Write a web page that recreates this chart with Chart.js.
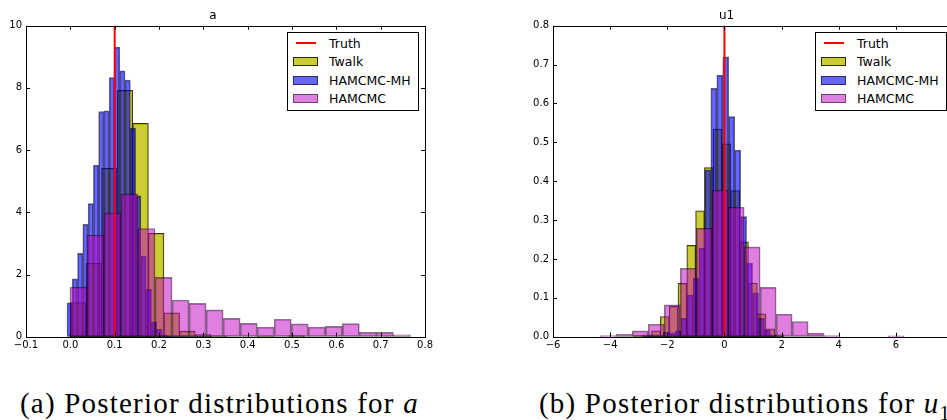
<!DOCTYPE html>
<html>
<head>
<meta charset="utf-8">
<script src="https://cdn.jsdelivr.net/npm/chart.js@4.4.1/dist/chart.umd.min.js"></script>
<style>
  html, body { margin: 0; padding: 0; background: #fff; overflow: hidden; }
  body { width: 947px; height: 420px; position: relative; }
  .panel { position: absolute; top: 0; }
  .panel canvas { display: block; }
  .legend { position: absolute; box-sizing: border-box; width: 132px; height: 79px; border: 1px solid #000;
            background: #fff; font: 12.5px "DejaVu Sans", sans-serif; padding-top: 0.5px; color: #000; }
  .legend .row { height: 18.5px; display: flex; align-items: center; }
  .legend .key { width: 25px; height: 9px; margin-left: 5px; box-sizing: border-box; display: flex;
                 align-items: center; justify-content: center; }
  .legend .key span { width: 20px; height: 2px; }
  .legend .txt { margin-left: 11px; }
  .caption { position: absolute; top: 389px; font-size: 29px; font-family: "Liberation Serif", "Times New Roman", "DejaVu Serif", serif;
             letter-spacing: 1.2px; line-height: 29px; white-space: nowrap; color: #000; }
  .caption sub { font-size: 0.7em; line-height: 0; }
</style>
</head>
<body>
<div class="panel" id="panelA" style="left:0"><canvas id="chartA" width="436" height="360"></canvas></div>
<div class="panel" id="panelU" style="left:500px"><canvas id="chartU" width="463" height="360"></canvas></div>
<div class="caption" style="left:20px">(a) Posterior distributions for <i>a</i></div>
<div class="caption" style="left:539px">(b) Posterior distributions for <i>u</i><sub>1</sub></div>

<script>
// series names and legend order
const seriesNames = ['Truth', 'Twalk', 'HAMCMC-MH', 'HAMCMC'];

// ---- panel (a): parameter a ----
const truthA = 0.1;
const twalkA_start = 0.0, twalkA_width = 0.0352;
const twalkA = [1.10, 2.36, 5.41, 7.92, 6.86, 3.32, 0.77, 0.18, 0.07, 0.03, 0, 0, 0.02, 0, 0.04];
const mhA_start = -0.0075, mhA_width = 0.0119;
const mhA = [1.09, 1.86, 2.68, 3.61, 4.28, 5.52, 7.24, 7.26, 8.33, 9.31, 8.55, 8.25, 6.70, 4.53, 2.59,
             1.52, 0.48, 0.24, 0.05, 0.02];
const hamA_start = -0.001, hamA_width = 0.0384;
const hamA = [1.59, 3.27, 3.98, 4.59, 3.48, 1.91, 1.18, 1.07, 0.86, 0.59, 0.43, 0.31, 0.56, 0.41, 0.31,
              0.33, 0.42, 0.14, 0.14, 0.06];

// ---- panel (b): parameter u1 ----
const truthU = 0.0;
const twalkU_start = -3.166, twalkU_width = 0.3082;
const twalkU = [0.003, 0.005, 0.015, 0.052, 0.078, 0.137, 0.235, 0.324, 0.435, 0.534, 0.496, 0.376,
                0.244, 0.138, 0.059, 0.02, 0.005];
const mhU_start = -2.767, mhU_width = 0.2084;
const mhU = [0.003, 0.005, 0.004, 0.012, 0.01, 0.015, 0.047, 0.107, 0.150, 0.227, 0.429, 0.639, 0.673,
             0.720, 0.566, 0.48, 0.309, 0.189, 0.113, 0.047, 0.017, 0.005];
const hamU_start = -4.343, hamU_width = 0.5594;
const hamU = [0.003, 0.006, 0.015, 0.032, 0.082, 0.176, 0.279, 0.377, 0.333, 0.231, 0.127, 0.058,
              0.039, 0.009, 0.003, 0, 0, 0, 0.002];

// styles
const truthColor = '#ff0000';
const fillColors = { Twalk: 'rgba(191,191,0,0.8)', 'HAMCMC-MH': 'rgba(0,0,255,0.6)', HAMCMC: 'rgba(191,0,191,0.5)' };
const edgeColors = { Twalk: 'rgba(0,0,0,0.8)', 'HAMCMC-MH': 'rgba(0,0,0,0.6)', HAMCMC: 'rgba(0,0,0,0.5)' };

Chart.defaults.font.family = '"DejaVu Sans", sans-serif';
Chart.defaults.font.size = 10;
Chart.defaults.color = '#000';

function bins(start, width, heights) {
  return heights.map((h, i) => ({ x: start + width * (i + 0.5), y: h }));
}

function fmt(dec) {
  return v => (v < -1e-9 ? '\u2212' : '') + Math.abs(v).toFixed(dec);
}

// matplotlib-style box with inward ticks on all four sides
const frame = {
  id: 'frame',
  afterDraw(chart) {
    const { ctx, chartArea: a } = chart;
    const x = chart.scales.x, y = chart.scales.y;
    ctx.save();
    ctx.strokeStyle = '#000';
    ctx.lineWidth = 1;
    ctx.beginPath();
    x.ticks.forEach(t => {
      const px = Math.round(x.getPixelForValue(t.value)) + 0.5;
      ctx.moveTo(px, a.bottom); ctx.lineTo(px, a.bottom - 4);
      ctx.moveTo(px, a.top); ctx.lineTo(px, a.top + 4);
    });
    y.ticks.forEach(t => {
      const py = Math.round(y.getPixelForValue(t.value)) + 0.5;
      ctx.moveTo(a.left, py); ctx.lineTo(a.left + 4, py);
      ctx.moveTo(a.right, py); ctx.lineTo(a.right - 4, py);
    });
    ctx.stroke();
    ctx.strokeRect(Math.round(a.left) + 0.5, Math.round(a.top) + 0.5,
                   Math.round(a.right - a.left), Math.round(a.bottom - a.top));
    ctx.restore();
  }
};

function histChart(canvasId, o) {
  const binScale = { type: 'linear', display: false, min: o.xmin, max: o.xmax, offset: false, ticks: { count: 2 } };
  const bar = (name, data, axis, order) => ({
    label: name, data, xAxisID: axis, order, grouped: false,
    backgroundColor: fillColors[name], borderColor: edgeColors[name]
  });
  return new Chart(document.getElementById(canvasId), {
    type: 'bar',
    data: {
      datasets: [
        { type: 'line', label: 'Truth', data: [{ x: o.truth, y: 0 }, { x: o.truth, y: o.ymax }],
          borderColor: truthColor, borderWidth: 2, pointRadius: 0, xAxisID: 'x', order: 0 },
        bar('HAMCMC', o.ham, 'xh', 1),
        bar('HAMCMC-MH', o.mh, 'xm', 2),
        bar('Twalk', o.twalk, 'xt', 3)
      ]
    },
    options: {
      responsive: false,
      animation: false,
      layout: { padding: { left: 0, right: 10, top: 0, bottom: 0 } },
      datasets: { bar: { barPercentage: 1, categoryPercentage: 1, borderWidth: 1, borderSkipped: false } },
      scales: {
        x: {
          type: 'linear', position: 'bottom', min: o.xmin, max: o.xmax, offset: false,
          grid: { display: false, drawTicks: false }, border: { display: false },
          ticks: { stepSize: o.xstep, padding: 3, maxRotation: 0, autoSkip: false, callback: fmt(o.xdec) },
          afterFit: s => { s.height = 23.3; }
        },
        xh: binScale, xm: binScale, xt: binScale,
        y: {
          type: 'linear', min: 0, max: o.ymax,
          grid: { display: false, drawTicks: false }, border: { display: false },
          ticks: { stepSize: o.ystep, padding: 4, callback: fmt(o.ydec) },
          afterFit: s => { s.width = o.yWidth; }
        }
      },
      plugins: {
        legend: { display: false },
        tooltip: { enabled: false },
        title: { display: true, text: o.title, color: '#000', font: { size: 12, weight: 'normal' },
                 padding: { top: 9, bottom: 2.3 } }
      }
    },
    plugins: [frame]
  });
}

function buildLegend(panelId, chart) {
  const a = chart.chartArea;
  const box = document.createElement('div');
  box.className = 'legend';
  box.style.left = (a.right - 6 - 132) + 'px';
  box.style.top = (a.top + 6.6) + 'px';
  seriesNames.forEach(name => {
    const row = document.createElement('div');
    row.className = 'row';
    const key = document.createElement('div');
    key.className = 'key';
    if (name === 'Truth') {
      const s = document.createElement('span');
      s.style.background = truthColor;
      key.appendChild(s);
    } else {
      key.style.background = fillColors[name];
      key.style.border = '1px solid ' + edgeColors[name];
    }
    const txt = document.createElement('span');
    txt.className = 'txt';
    txt.textContent = name;
    row.appendChild(key);
    row.appendChild(txt);
    box.appendChild(row);
  });
  document.getElementById(panelId).appendChild(box);
}

const chartA = histChart('chartA', {
  title: 'a', truth: truthA, xmin: -0.1, xmax: 0.8, xstep: 0.1, xdec: 1, ymax: 10, ystep: 2, ydec: 0, yWidth: 26,
  twalk: bins(twalkA_start, twalkA_width, twalkA),
  mh: bins(mhA_start, mhA_width, mhA),
  ham: bins(hamA_start, hamA_width, hamA)
});

const chartU = histChart('chartU', {
  title: 'u1', truth: truthU, xmin: -6, xmax: 8, xstep: 2, xdec: 0, ymax: 0.8, ystep: 0.1, ydec: 1, yWidth: 53,
  twalk: bins(twalkU_start, twalkU_width, twalkU),
  mh: bins(mhU_start, mhU_width, mhU),
  ham: bins(hamU_start, hamU_width, hamU)
});

buildLegend('panelA', chartA);
buildLegend('panelU', chartU);
</script>
</body>
</html>
